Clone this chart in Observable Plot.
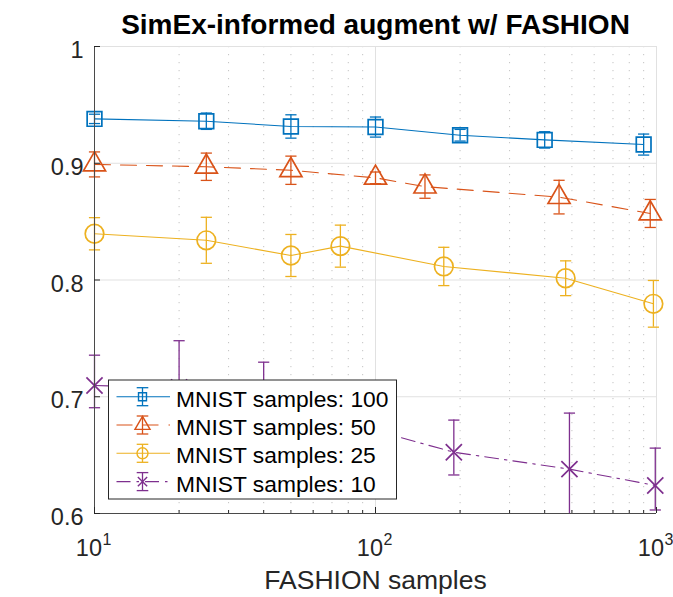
<!DOCTYPE html>
<html>
<head>
<meta charset="utf-8">
<script src="https://cdn.jsdelivr.net/npm/d3@7"></script>
<script src="https://cdn.jsdelivr.net/npm/@observablehq/plot@0.6"></script>
<style>
  html, body { margin: 0; padding: 0; background: #fff; }
  #chart svg { display: block; }
</style>
</head>
<body>
<div id="chart"></div>
<script>
// ---------- data ----------
const titleText = "SimEx-informed augment w/ FASHION";
const xLabelText = "FASHION samples";
const seriesNames = ["MNIST samples: 100", "MNIST samples: 50", "MNIST samples: 25", "MNIST samples: 10"];
const seriesColors = ["#0072BD", "#D95319", "#EDB120", "#7E2F8E"];
const seriesSymbols = ["square", "triangle", "circle", "times"];
const seriesDash = [null, "16,10", null, "14,6,2.5,6"];

// MNIST 100
const x100 = [10, 25, 50, 100, 200, 400, 900];
const y100 = [0.938, 0.936, 0.9315, 0.931, 0.924, 0.920, 0.916];
const e100 = [0.004, 0.007, 0.010, 0.0086, 0.005, 0.007, 0.009];
// MNIST 50
const x50 = [10, 25, 50, 100, 150, 450, 950];
const y50 = [0.899, 0.897, 0.894, 0.8875, 0.880, 0.871, 0.857];
const e50 = [0.0107, 0.0117, 0.0121, 0.005, 0.010, 0.0144, 0.012];
// MNIST 25
const x25 = [10, 25, 50, 75, 175, 475, 975];
const y25 = [0.8396, 0.834, 0.821, 0.829, 0.8116, 0.8015, 0.7796];
const e25 = [0.0138, 0.0197, 0.018, 0.018, 0.0164, 0.0149, 0.020];
// MNIST 10
const x10 = [10, 20, 40, 90, 190, 490, 990];
const y10 = [0.7096, 0.708, 0.700, 0.674, 0.6525, 0.638, 0.624];
const lo10 = [0.019, 0.040, 0.030, 0.020, 0.0195, 0.048, 0.021];
const hi10 = [0.026, 0.040, 0.0296, 0.020, 0.0275, 0.048, 0.032];

const yTicks = [0.6, 0.7, 0.8, 0.9, 1];
const yTickLabels = ["0.6", "0.7", "0.8", "0.9", "1"];
const xMajor = [10, 100, 1000];
const xMajorBase = ["10", "10", "10"];
const xMajorExp = ["1", "2", "3"];
const xMinor = [20, 30, 40, 50, 60, 70, 80, 90, 200, 300, 400, 500, 600, 700, 800, 900];

// ---------- tables ----------
const seriesArrays = [
  [x100, y100, e100, e100],
  [x50, y50, e50, e50],
  [x25, y25, e25, e25],
  [x10, y10, lo10, hi10]
];
const rows = [];
seriesArrays.forEach(([xs, ys, lo, hi], s) => {
  xs.forEach((x, i) => rows.push({s, x, y: ys[i], lo: ys[i] - lo[i], hi: ys[i] + hi[i]}));
});

// ---------- layout ----------
const W = 673, H = 597;
const mL = 94, mR = 17, mT = 46, mB = 84;
const plotW = W - mL - mR, plotH = H - mT - mB;
const FONT = "'Liberation Sans', Arial, Helvetica, sans-serif";
const ink = "#262626";

const capSymbol = {
  draw(ctx, size) {
    const r = Math.sqrt(size / Math.PI);
    ctx.moveTo(-r, 0);
    ctx.lineTo(r, 0);
  }
};
const markerR = {square: 8.3, triangle: 8.2, circle: 9.3, times: 7.4};
const legendR = {square: 4.5, triangle: 5.6, circle: 5.5, times: 4.3};

const seriesMarks = [];
seriesNames.forEach((name, s) => {
  const d = rows.filter(r => r.s === s);
  const color = seriesColors[s];
  seriesMarks.push(
    Plot.line(d, {x: "x", y: "y", stroke: color, strokeWidth: 1.1,
      strokeDasharray: seriesDash[s] || undefined}),
    Plot.ruleX(d, {x: "x", y1: "lo", y2: "hi", stroke: color, strokeWidth: 1.3}),
    Plot.dot(d.filter(r => r.hi <= 1), {x: "x", y: "hi", symbol: capSymbol, r: 5.6,
      fill: "none", stroke: color, strokeWidth: 1.3}),
    Plot.dot(d.filter(r => r.lo >= 0.6), {x: "x", y: "lo", symbol: capSymbol, r: 5.6,
      fill: "none", stroke: color, strokeWidth: 1.3}),
    Plot.dot(d, {x: "x", y: "y", symbol: seriesSymbols[s], r: markerR[seriesSymbols[s]],
      fill: "none", stroke: color, strokeWidth: 1.7})
  );
});

// legend drawn as a custom render mark
function legendMark(index, scales, values, dims) {
  const g = d3.create("svg:g");
  const bx = dims.marginLeft + 14.5, by = dims.marginTop + 334, bw = 288, bh = 119;
  g.append("rect").attr("x", bx).attr("y", by).attr("width", bw).attr("height", bh)
    .attr("fill", "#fff").attr("stroke", ink).attr("stroke-width", 1);
  seriesNames.forEach((name, s) => {
    const cy = by + 16.7 + s * 28.3;
    const color = seriesColors[s];
    const e = g.append("g").attr("stroke", color).attr("fill", "none");
    const ln = e.append("line").attr("x1", bx + 8).attr("x2", bx + 61.5).attr("y1", cy).attr("y2", cy)
      .attr("stroke-width", 1.1);
    if (seriesDash[s]) ln.attr("stroke-dasharray", seriesDash[s]);
    const mx = bx + 34;
    e.append("line").attr("x1", mx).attr("x2", mx).attr("y1", cy - 9).attr("y2", cy + 9)
      .attr("stroke-width", 1.3);
    [cy - 9, cy + 9].forEach(yy => e.append("line").attr("x1", mx - 5.8).attr("x2", mx + 5.8)
      .attr("y1", yy).attr("y2", yy).attr("stroke-width", 1.3));
    const sym = {square: d3.symbolSquare, triangle: d3.symbolTriangle, circle: d3.symbolCircle, times: d3.symbolTimes}[seriesSymbols[s]];
    const rr = legendR[seriesSymbols[s]];
    e.append("path").attr("transform", `translate(${mx},${cy})`)
      .attr("d", d3.symbol(sym, rr * rr * Math.PI)()).attr("stroke-width", 1.4);
    g.append("text").attr("x", bx + 67.5).attr("y", cy + 10)
      .attr("text-anchor", "start")
      .attr("font-family", FONT).attr("font-size", 22.8).attr("fill", "#000").text(name);
  });
  return g.node();
}

const chart = Plot.plot({
  width: W, height: H,
  marginLeft: mL, marginRight: mR, marginTop: mT, marginBottom: mB,
  style: {fontFamily: FONT, background: "#fff", overflow: "visible"},
  x: {type: "log", domain: [10, 1000], axis: null},
  y: {domain: [0.6, 1], clamp: true, axis: null},
  marks: [
    // grid
    Plot.ruleX(xMinor, {stroke: "#bcbcbc", strokeWidth: 0.9, strokeDasharray: "1.2,6.8"}),
    Plot.ruleX(xMajor.slice(1), {stroke: "#e1e1e1", strokeWidth: 1}),
    Plot.ruleY(yTicks.slice(1), {stroke: "#e1e1e1", strokeWidth: 1}),
    // data
    ...seriesMarks,
    // axis lines
    Plot.ruleX([10], {stroke: "#4a4a4a", strokeWidth: 1}),
    Plot.ruleY([0.6], {stroke: "#4a4a4a", strokeWidth: 1}),
    // inward ticks
    Plot.tickY(yTicks, {y: d => d, insetRight: plotW - 6, stroke: ink, strokeWidth: 1}),
    Plot.tickX(xMajor, {x: d => d, insetTop: plotH - 6, stroke: ink, strokeWidth: 1}),
    Plot.tickX(xMinor, {x: d => d, insetTop: plotH - 3, stroke: ink, strokeWidth: 1}),
    // tick labels
    Plot.text(yTicks, {y: d => d, text: (d, i) => yTickLabels[i], frameAnchor: "left",
      textAnchor: "end", dx: -11, dy: 4, fontSize: 23.5, fill: ink}),
    Plot.text(xMajor, {x: d => d, text: (d, i) => xMajorBase[i], frameAnchor: "bottom",
      lineAnchor: "bottom", textAnchor: "end", dx: 7.5, dy: 42, fontSize: 23.5, fill: ink}),
    Plot.text(xMajor, {x: d => d, text: (d, i) => xMajorExp[i], frameAnchor: "bottom",
      lineAnchor: "bottom", textAnchor: "start", dx: 8, dy: 31, fontSize: 16, fill: ink}),
    // axis label & title
    Plot.text([xLabelText], {text: d => d, frameAnchor: "bottom", lineAnchor: "bottom",
      dy: 75, fontSize: 26.5, fill: ink}),
    Plot.text([titleText], {text: d => d, frameAnchor: "top", lineAnchor: "bottom",
      dy: -13, fontSize: 28, fontWeight: "bold", fill: "#000"}),
    // legend
    legendMark
  ]
});
document.getElementById("chart").appendChild(chart);
</script>
</body>
</html>
